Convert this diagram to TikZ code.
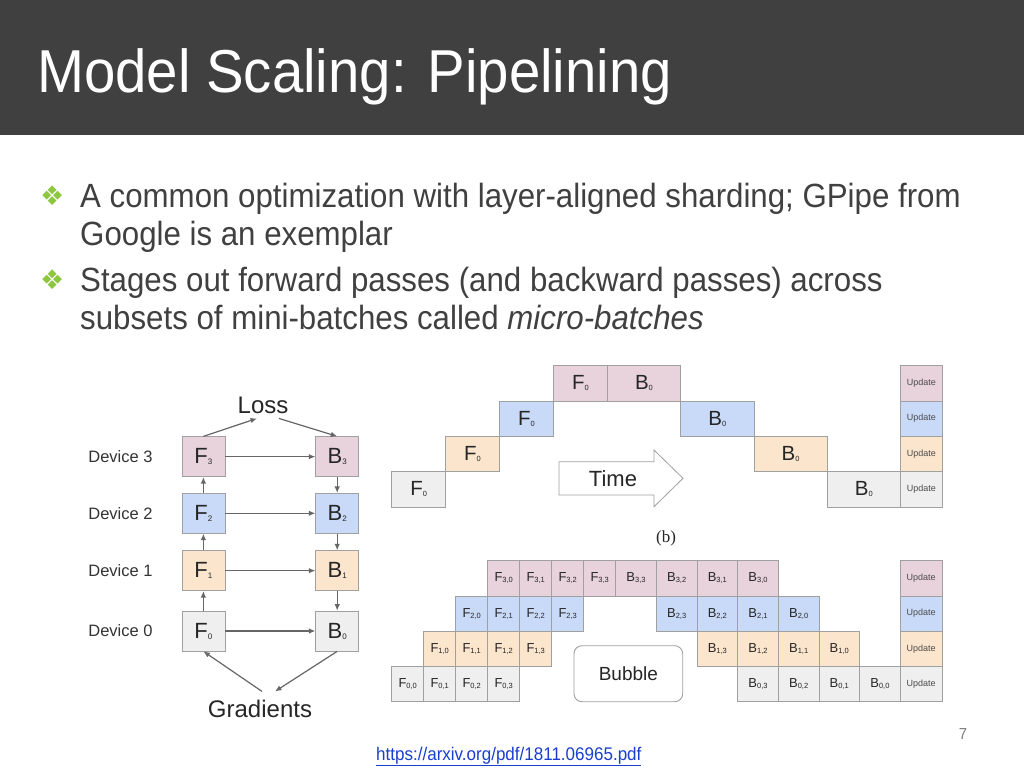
\documentclass[tikz,border=0pt]{standalone}
\usepackage{fontspec}
\setmainfont{Liberation Sans}[FakeStretch=0.93]
\newfontfamily\dfont{Liberation Sans}
\newfontfamily\symfont{DejaVu Sans}
\newfontfamily\serfont{Liberation Serif}
\usetikzlibrary{arrows.meta,calc}
\definecolor{hdr}{HTML}{404040}
\definecolor{txt}{HTML}{404040}
\definecolor{bulg}{HTML}{8DC63F}
\definecolor{cMauve}{HTML}{E8D3DC}
\definecolor{cBlue}{HTML}{C9DAF8}
\definecolor{cTan}{HTML}{FCE5CD}
\definecolor{cGray}{HTML}{EFEFEF}
\definecolor{bord}{HTML}{A0A0A0}
\definecolor{arr}{HTML}{666666}
\definecolor{link}{HTML}{1A3FCF}
\newcommand\FB[4]{{\fontsize{#3}{#3}\selectfont #1}\raisebox{-1pt}{\fontsize{#4}{#4}\selectfont #2}}
\tikzset{
  cell/.style={draw=bord, line width=0.7pt, inner sep=0pt, text=black!85, font=\dfont},
  conn/.style={draw=arr, line width=1.2pt, -{Latex[length=6.5pt,width=5.5pt]}},
  bodytext/.style={anchor=base west, inner sep=0pt, text=txt, font=\fontsize{33.6}{33.6}\selectfont},
  bul/.style={anchor=base west, inner sep=0pt, text=bulg, font=\symfont\fontsize{27}{27}\selectfont},
  devlabel/.style={inner sep=0pt, text=black!80, font=\dfont\fontsize{16.5}{16.5}\selectfont},
}
\begin{document}
\begin{tikzpicture}[x=1pt,y=-1pt]
\useasboundingbox (0,0) rectangle (1024,768);
\fill[white] (0,0) rectangle (1024,768);
% header
\fill[hdr] (0,0) rectangle (1024,135);
\node[anchor=base west, inner sep=0pt, text=white, font=\fontsize{60.6}{60.6}\selectfont] (title) at (37,92) {Model Scaling: Pipelining};
% bullets
\node[bul] (b1) at (40,205) {❖};
\node[bodytext] (l1) at (80,207) {A common optimization with layer-aligned sharding; GPipe from};
\node[bodytext] (l2) at (80,245) {Google is an exemplar};
\node[bul] (b2) at (40,289) {❖};
\node[bodytext] (l3) at (80,291) {Stages out forward passes (and backward passes) across};
\node[bodytext] (l4) at (80,329) {subsets of mini-batches called \textit{micro-batches}};

% ---------- left diagram ----------
\foreach \d/\col/\y in {3/cMauve/456.7, 2/cBlue/513.3, 1/cTan/570.7, 0/cGray/631} {
  \node[cell, fill=\col, minimum width=43, minimum height=40] (F\d) at (203.4,\y) {\FB{F}{\d}{22}{8}};
  \node[cell, fill=\col, minimum width=43, minimum height=40] (B\d) at (337.2,\y) {\FB{B}{\d}{22}{8}};
  \node[devlabel] (D\d) at (120.5,\y) {Device \d};
  \draw[conn] (F\d) -- (B\d);
}
\node[anchor=base, inner sep=0pt, text=black!85, font=\dfont\fontsize{24}{24}\selectfont] (Loss) at (263,413) {Loss};
\node[anchor=base, inner sep=0pt, text=black!85, font=\dfont\fontsize{24}{24}\selectfont] (Grad) at (260,717) {Gradients};
\foreach \a/\b in {0/1,1/2,2/3} { \draw[conn] (F\a) -- (F\b); }
\foreach \a/\b in {3/2,2/1,1/0} { \draw[conn] (B\a) -- (B\b); }
\draw[conn] (F3.north) -- ([xshift=-6pt,yshift=-5pt]Loss.south);
\draw[conn] ([xshift=16pt,yshift=-5pt]Loss.south) -- (B3.north);
\draw[conn] ([xshift=2pt,yshift=8pt]Grad.north) -- (F0.south);
\draw[conn] (B0.south) -- ([xshift=15pt,yshift=8pt]Grad.north);

% ---------- top right diagram ----------
\foreach \d/\col in {3/cMauve,2/cBlue,1/cTan,0/cGray} {
  \pgfmathsetmacro\cy{383.35+35.3*(3-\d)}
  \pgfmathsetmacro\fx{391.7+53.9*\d+26.95}
  \pgfmathsetmacro\bx{607.3+73.3*(3-\d)+36.65}
  \node[cell, fill=\col, minimum width=53.9, minimum height=35.3] (tF\d) at (\fx,\cy) {\FB{F}{0}{20.5}{7.5}};
  \node[cell, fill=\col, minimum width=73.3, minimum height=35.3] (tB\d) at (\bx,\cy) {\FB{B}{0}{20.5}{7.5}};
  \node[cell, fill=\col, minimum width=41.5, minimum height=35.3, font=\dfont\fontsize{9}{9}\selectfont, text=black!70] (tU\d) at (921.25,\cy) {Update};
}
\draw[draw=bord, line width=0.8pt, fill=white] (559,461.7) -- (654,461.7) -- (654,450) -- (683,478.3) -- (654,506.7) -- (654,495) -- (559,495) -- cycle;
\node[inner sep=0pt, text=black!85, font=\dfont\fontsize{22}{22}\selectfont] (time) at (613,479) {Time};
\node[inner sep=0pt, text=black!85, font=\serfont\fontsize{17}{17}\selectfont] (blab) at (666,538) {(b)};

% ---------- bottom right diagram ----------
\foreach \d/\col in {3/cMauve,2/cBlue,1/cTan,0/cGray} {
  \foreach \m in {0,1,2,3} {
    \pgfmathsetmacro\cy{578.4+35.2*(3-\d)}
    \pgfmathsetmacro\fx{391.7+32*(\d+\m)+16}
    \pgfmathsetmacro\bx{615.7+40.65*((3-\d)+(3-\m))+20.33}
    \node[cell, fill=\col, minimum width=32, minimum height=35.2] (bF\d\m) at (\fx,\cy) {\FB{F}{\d,\m}{13}{7.5}};
    \node[cell, fill=\col, minimum width=40.65, minimum height=35.2] (bB\d\m) at (\bx,\cy) {\FB{B}{\d,\m}{13}{7.5}};
  }
  \pgfmathsetmacro\cy{578.4+35.2*(3-\d)}
  \node[cell, fill=\col, minimum width=41.7, minimum height=35.2, font=\dfont\fontsize{9}{9}\selectfont, text=black!70] (bU\d) at (921.15,\cy) {Update};
}
\node[draw=bord, line width=0.9pt, rounded corners=8pt, minimum width=108.7, minimum height=56, inner sep=0pt, text=black!85, font=\dfont\fontsize{19}{19}\selectfont] (bubble) at (628.35,673.7) {Bubble};

% footer
\node[anchor=base, inner sep=0pt, text=black!50, font=\fontsize{16}{16}\selectfont] (pnum) at (963,739) {7};
\node[anchor=base west, inner sep=0pt, text=link, font=\fontsize{18.3}{18.3}\selectfont] (url) at (376,760) {\underline{https://arxiv.org/pdf/1811.06965.pdf}};
\end{tikzpicture}
\end{document}
